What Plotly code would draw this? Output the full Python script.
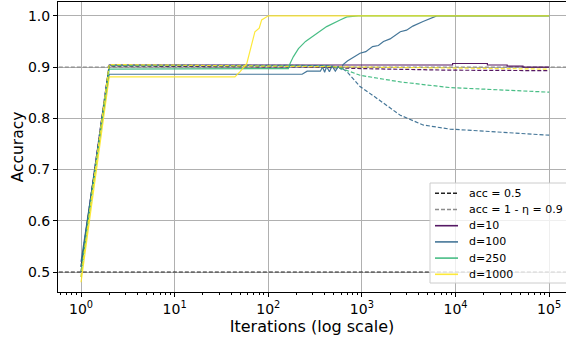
import plotly.graph_objects as go

# ---------------- data ----------------
d10_train_x = [1, 2, 9300, 9301, 21900, 21901, 35600, 35601, 52500, 52501, 100000]
d10_train_y = [0.51, 0.904, 0.904, 0.907, 0.907, 0.904, 0.904, 0.902, 0.902, 0.900, 0.900]
d10_test_x = [1, 2, 300, 1000, 8000, 100000]
d10_test_y = [0.50, 0.902, 0.900, 0.897, 0.894, 0.893]

d100_train_x = [1, 2, 230, 260, 360, 380, 400, 420, 450, 480, 520, 560, 600, 630, 700, 800, 955,
                1100, 1300, 1500, 1700, 2000, 2300, 2570, 3000, 3500, 4500, 5500, 6300, 100000]
d100_train_y = [0.52, 0.886, 0.886, 0.892, 0.892, 0.900, 0.890, 0.901, 0.891, 0.902, 0.892, 0.901, 0.896, 0.905,
                0.912, 0.918, 0.927, 0.930, 0.940, 0.942, 0.950, 0.955, 0.962, 0.969, 0.972, 0.980, 0.989, 0.995, 1.0, 1.0]
d100_test_x = [1, 2, 400, 590, 700, 955, 1300, 1700, 2570, 4500, 8700, 20000, 50000, 100000]
d100_test_y = [0.51, 0.904, 0.903, 0.900, 0.890, 0.862, 0.845, 0.830, 0.806, 0.787, 0.779, 0.775, 0.771, 0.767]

d250_train_x = [1, 2, 164, 171, 185, 210, 250, 330, 420, 585, 690, 915, 100000]
d250_train_y = [0.50, 0.896, 0.897, 0.907, 0.920, 0.936, 0.950, 0.966, 0.979, 0.992, 0.998, 1.0, 1.0]
d250_test_x = [1, 2, 450, 590, 955, 2570, 8700, 30000, 100000]
d250_test_y = [0.49, 0.903, 0.902, 0.898, 0.884, 0.871, 0.860, 0.855, 0.851]

d1000_train_x = [1, 2, 44, 50, 59, 67, 72, 80, 85, 100, 100000]
d1000_train_y = [0.48, 0.881, 0.881, 0.891, 0.907, 0.947, 0.969, 0.976, 0.992, 1.0, 1.0]
d1000_test_x = [1, 2, 1000, 100000]
d1000_test_y = [0.49, 0.905, 0.900, 0.896]

hline_x = [0.5, 200000]
acc_chance = 0.5
acc_noise = 0.9

series_names = ["d=10", "d=100", "d=250", "d=1000"]
series_colors = ["#440154", "#31688e", "#35b779", "#fde725"]
train_x = [d10_train_x, d100_train_x, d250_train_x, d1000_train_x]
train_y = [d10_train_y, d100_train_y, d250_train_y, d1000_train_y]
test_x = [d10_test_x, d100_test_x, d250_test_x, d1000_test_x]
test_y = [d10_test_y, d100_test_y, d250_test_y, d1000_test_y]

legend_labels = ["acc = 0.5", "acc = 1 - η = 0.9"] + series_names
legend_colors = ["#222222", "#8c8c8c"] + series_colors
legend_dashes = ["4px,2px", "4px,2px", "solid", "solid", "solid", "solid"]

x_tickvals = [1, 10, 100, 1000, 10000, 100000]
x_ticktext = ["10<sup>0</sup>", "10<sup>1</sup>", "10<sup>2</sup>", "10<sup>3</sup>",
              "10<sup>4</sup>", "10<sup>5</sup>"]
y_tickvals = [0.5, 0.6, 0.7, 0.8, 0.9, 1.0]
y_ticktext = ["0.5", "0.6", "0.7", "0.8", "0.9", "1.0"]

# ---------------- figure ----------------
FONT = "DejaVu Sans"
W, H = 566, 337
ML, MR, MT, MB = 58, 0, 2, 45
PW, PH = W - ML - MR, H - MT - MB


def px_x(p):
    return (p - ML) / PW


def px_y(p):
    return (H - MB - p) / PH


fig = go.Figure()

fig.add_trace(go.Scatter(x=hline_x, y=[acc_chance, acc_chance], mode="lines",
                         name=legend_labels[0], showlegend=False,
                         line=dict(color=legend_colors[0], width=1.2, dash="4px,2px")))
fig.add_trace(go.Scatter(x=hline_x, y=[acc_noise, acc_noise], mode="lines",
                         name=legend_labels[1], showlegend=False,
                         line=dict(color=legend_colors[1], width=1.2, dash="4px,2px")))

for i, (nm, col) in enumerate(zip(series_names, series_colors)):
    fig.add_trace(go.Scatter(x=train_x[i], y=train_y[i], mode="lines", name=nm,
                             showlegend=False, opacity=0.9,
                             line=dict(color=col, width=1.2)))
    fig.add_trace(go.Scatter(x=test_x[i], y=test_y[i], mode="lines", name=nm + " (test)",
                             showlegend=False, opacity=0.9,
                             line=dict(color=col, width=1.2, dash="4px,2px")))

# ---- legend box drawn in paper coordinates (matplotlib-style compact legend) ----
shapes = [dict(type="rect", xref="paper", yref="paper",
               x0=px_x(430), x1=px_x(575), y0=px_y(283), y1=px_y(183),
               fillcolor="rgba(255,255,255,0.8)", line=dict(color="#cccccc", width=1),
               layer="above")]
annotations = []
row0, row_step = 193.3, 16.2
for k, (lab, col, dsh) in enumerate(zip(legend_labels, legend_colors, legend_dashes)):
    yy = px_y(row0 + k * row_step)
    shapes.append(dict(type="line", xref="paper", yref="paper",
                       x0=px_x(435), x1=px_x(458), y0=yy, y1=yy,
                       line=dict(color=col, width=1.6, dash=dsh), layer="above",
                       opacity=0.9 if k >= 2 else 1.0))
    annotations.append(dict(xref="paper", yref="paper", x=px_x(467), y=yy,
                            xanchor="left", yanchor="middle", showarrow=False,
                            text=lab, font=dict(family=FONT, size=11, color="black")))

minor_vals = [0.6, 0.7, 0.8, 0.9]
for p in range(5):
    minor_vals += [m * 10 ** p for m in range(2, 10)]

fig.update_layout(
    width=W, height=H,
    margin=dict(l=ML, r=MR, t=MT, b=MB),
    paper_bgcolor="white", plot_bgcolor="white",
    font=dict(family=FONT, color="black", size=14),
    showlegend=False,
    shapes=shapes, annotations=annotations,
    xaxis=dict(type="log", range=[-0.246, 5.18],
               tickmode="array", tickvals=x_tickvals, ticktext=x_ticktext,
               ticks="outside", ticklen=4, tickcolor="black", tickwidth=1,
               showline=True, linecolor="black", linewidth=1, mirror=True,
               showgrid=True, gridcolor="#b0b0b0", gridwidth=1, zeroline=False,
               tickfont=dict(size=14),
               minor=dict(tickmode="array", tickvals=minor_vals, ticks="outside",
                          ticklen=2, tickcolor="black", showgrid=False),
               title=dict(text="Iterations (log scale)", font=dict(size=16), standoff=2)),
    yaxis=dict(range=[0.461, 1.027],
               tickmode="array", tickvals=y_tickvals, ticktext=y_ticktext,
               ticks="outside", ticklen=4, tickcolor="black", tickwidth=1,
               showline=True, linecolor="black", linewidth=1, mirror=False,
               showgrid=True, gridcolor="#b0b0b0", gridwidth=1, zeroline=False,
               tickfont=dict(size=14),
               title=dict(text="Accuracy", font=dict(size=15.5), standoff=0)),
)

fig.write_html("out.html")
